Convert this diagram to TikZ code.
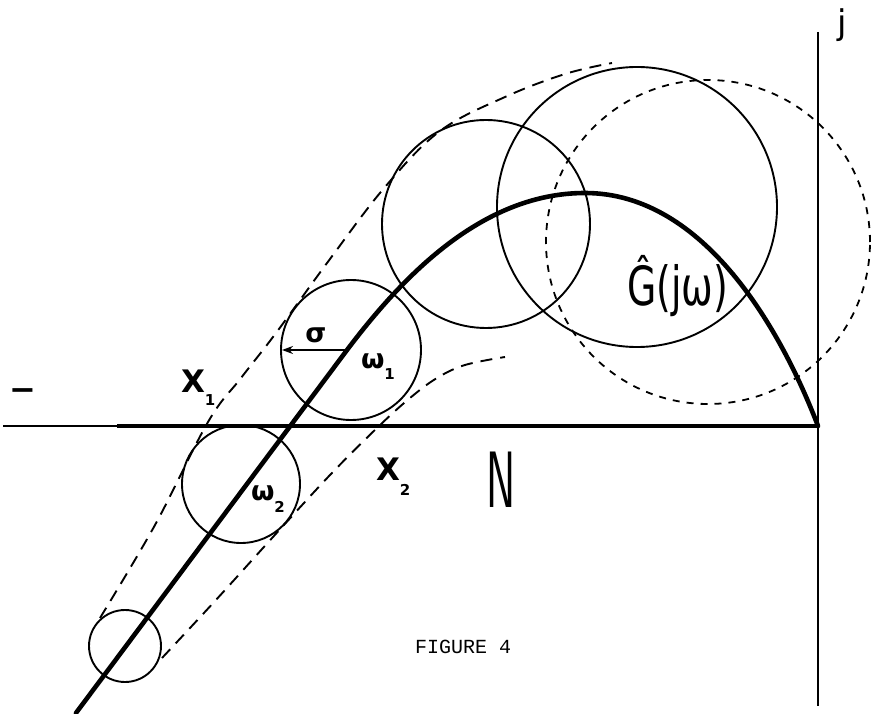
\documentclass[tikz,border=0pt]{standalone}
\usepackage{fontspec}
\newfontfamily\hand{DejaVu Sans}
\newfontfamily\handb{DejaVu Sans Bold}
\newfontfamily\typew{Liberation Mono}
\usetikzlibrary{arrows.meta}
\newcommand\lowsub[2]{\raisebox{-#1}{\handb\fontsize{15}{15}\selectfont #2}}
\begin{document}
\begin{tikzpicture}[x=1pt,y=-1pt,
  ring/.style={circle,draw,line width=1.9pt,inner sep=0pt,outer sep=0pt},
  dotring/.style={ring,line width=1.8pt,dash pattern=on 7pt off 7pt},
  envelope/.style={line width=1.9pt,dash pattern=on 12pt off 8pt},
  locus/.style={line width=4.6pt,line cap=round,line join=round},
  lbl/.style={inner sep=0pt,outer sep=0pt}]
\useasboundingbox (0,0) rectangle (871,714);

% axes
\coordinate (hl) at (3,426);
\coordinate (hm) at (117,426);
\coordinate (o) at (818,426);
\coordinate (vt) at (818,32);
\coordinate (vb) at (818,706);
\draw[line width=1.5pt] (hl) -- (hm);
\draw[line width=3.6pt] (hm) -- (o);
\draw[line width=2.2pt] (vt) -- (vb);

% circles
\node[ring,minimum size=72pt]  (c0) at (125,646) {};
\node[ring,minimum size=118pt] (c1) at (241,484) {};
\node[ring,minimum size=140pt] (c2) at (351,350) {};
\node[ring,minimum size=208pt] (c3) at (486,224) {};
\node[ring,minimum size=280pt] (c4) at (637,207) {};
\node[dotring,minimum size=324pt] (c5) at (708,242) {};

% envelopes
\draw[envelope] plot[smooth,tension=0.6] coordinates {(100,618) (155,525) (208,422) (241,378) (276,333) (330,259) (385,187) (440,131) (505,97) (565,74) (612,63)};
\draw[envelope] plot[smooth,tension=0.6] coordinates {(162,658) (215,601) (273,537) (330,475) (378,427) (410,398) (437,378) (465,365) (505,357)};

% G(jw) locus
\coordinate (l0) at (76,713);
\coordinate (l1) at (347,350);
\coordinate (l2) at (585,193);
\draw[locus] (l0) -- (l1) .. controls (400,280) and (480,193) .. (l2)
  .. controls (705,193) and (782,332) .. (o);

% sigma arrow
\coordinate (sg) at (349,350);
\coordinate (sgt) at (282,350);
\draw[line width=1.8pt,-{Stealth[length=11pt,width=8pt]}] (sg) -- (sgt);

% labels
\node[lbl,font=\hand\fontsize{34}{34}\selectfont] (j) at (842,25) {j};
\node[lbl,font=\handb\fontsize{32}{32}\selectfont] (minus) at (23,395) {−};
\node[lbl,font=\handb\fontsize{27}{27}\selectfont] (sig) at (316,335) {σ};
\node[lbl,anchor=base west,font=\handb\fontsize{27}{27}\selectfont] (w1) at (361,369) {ω\lowsub{10pt}{1}};
\node[lbl,anchor=base west,font=\handb\fontsize{27}{27}\selectfont] (w2) at (251,500) {ω\lowsub{12pt}{2}};
\node[lbl,anchor=base west,font=\handb\fontsize{31}{31}\selectfont] (x1) at (181,392) {X\lowsub{13pt}{1}};
\node[lbl,anchor=base west,font=\handb\fontsize{31}{31}\selectfont] (x2) at (376,480) {X\lowsub{15pt}{2}};
\node[lbl,font=\sffamily\fontsize{80}{80}\selectfont] (n) at (501,480) {\scalebox{0.55}[1]{N}};
\node[lbl,anchor=base west,font=\hand\fontsize{54}{54}\selectfont] (g) at (627,306) {\scalebox{0.7}[1]{Ĝ(jω)}};
\node[lbl,anchor=base west,font=\typew\fontsize{20}{20}\selectfont] (fig) at (415,653) {FIGURE 4};
\end{tikzpicture}
\end{document}
